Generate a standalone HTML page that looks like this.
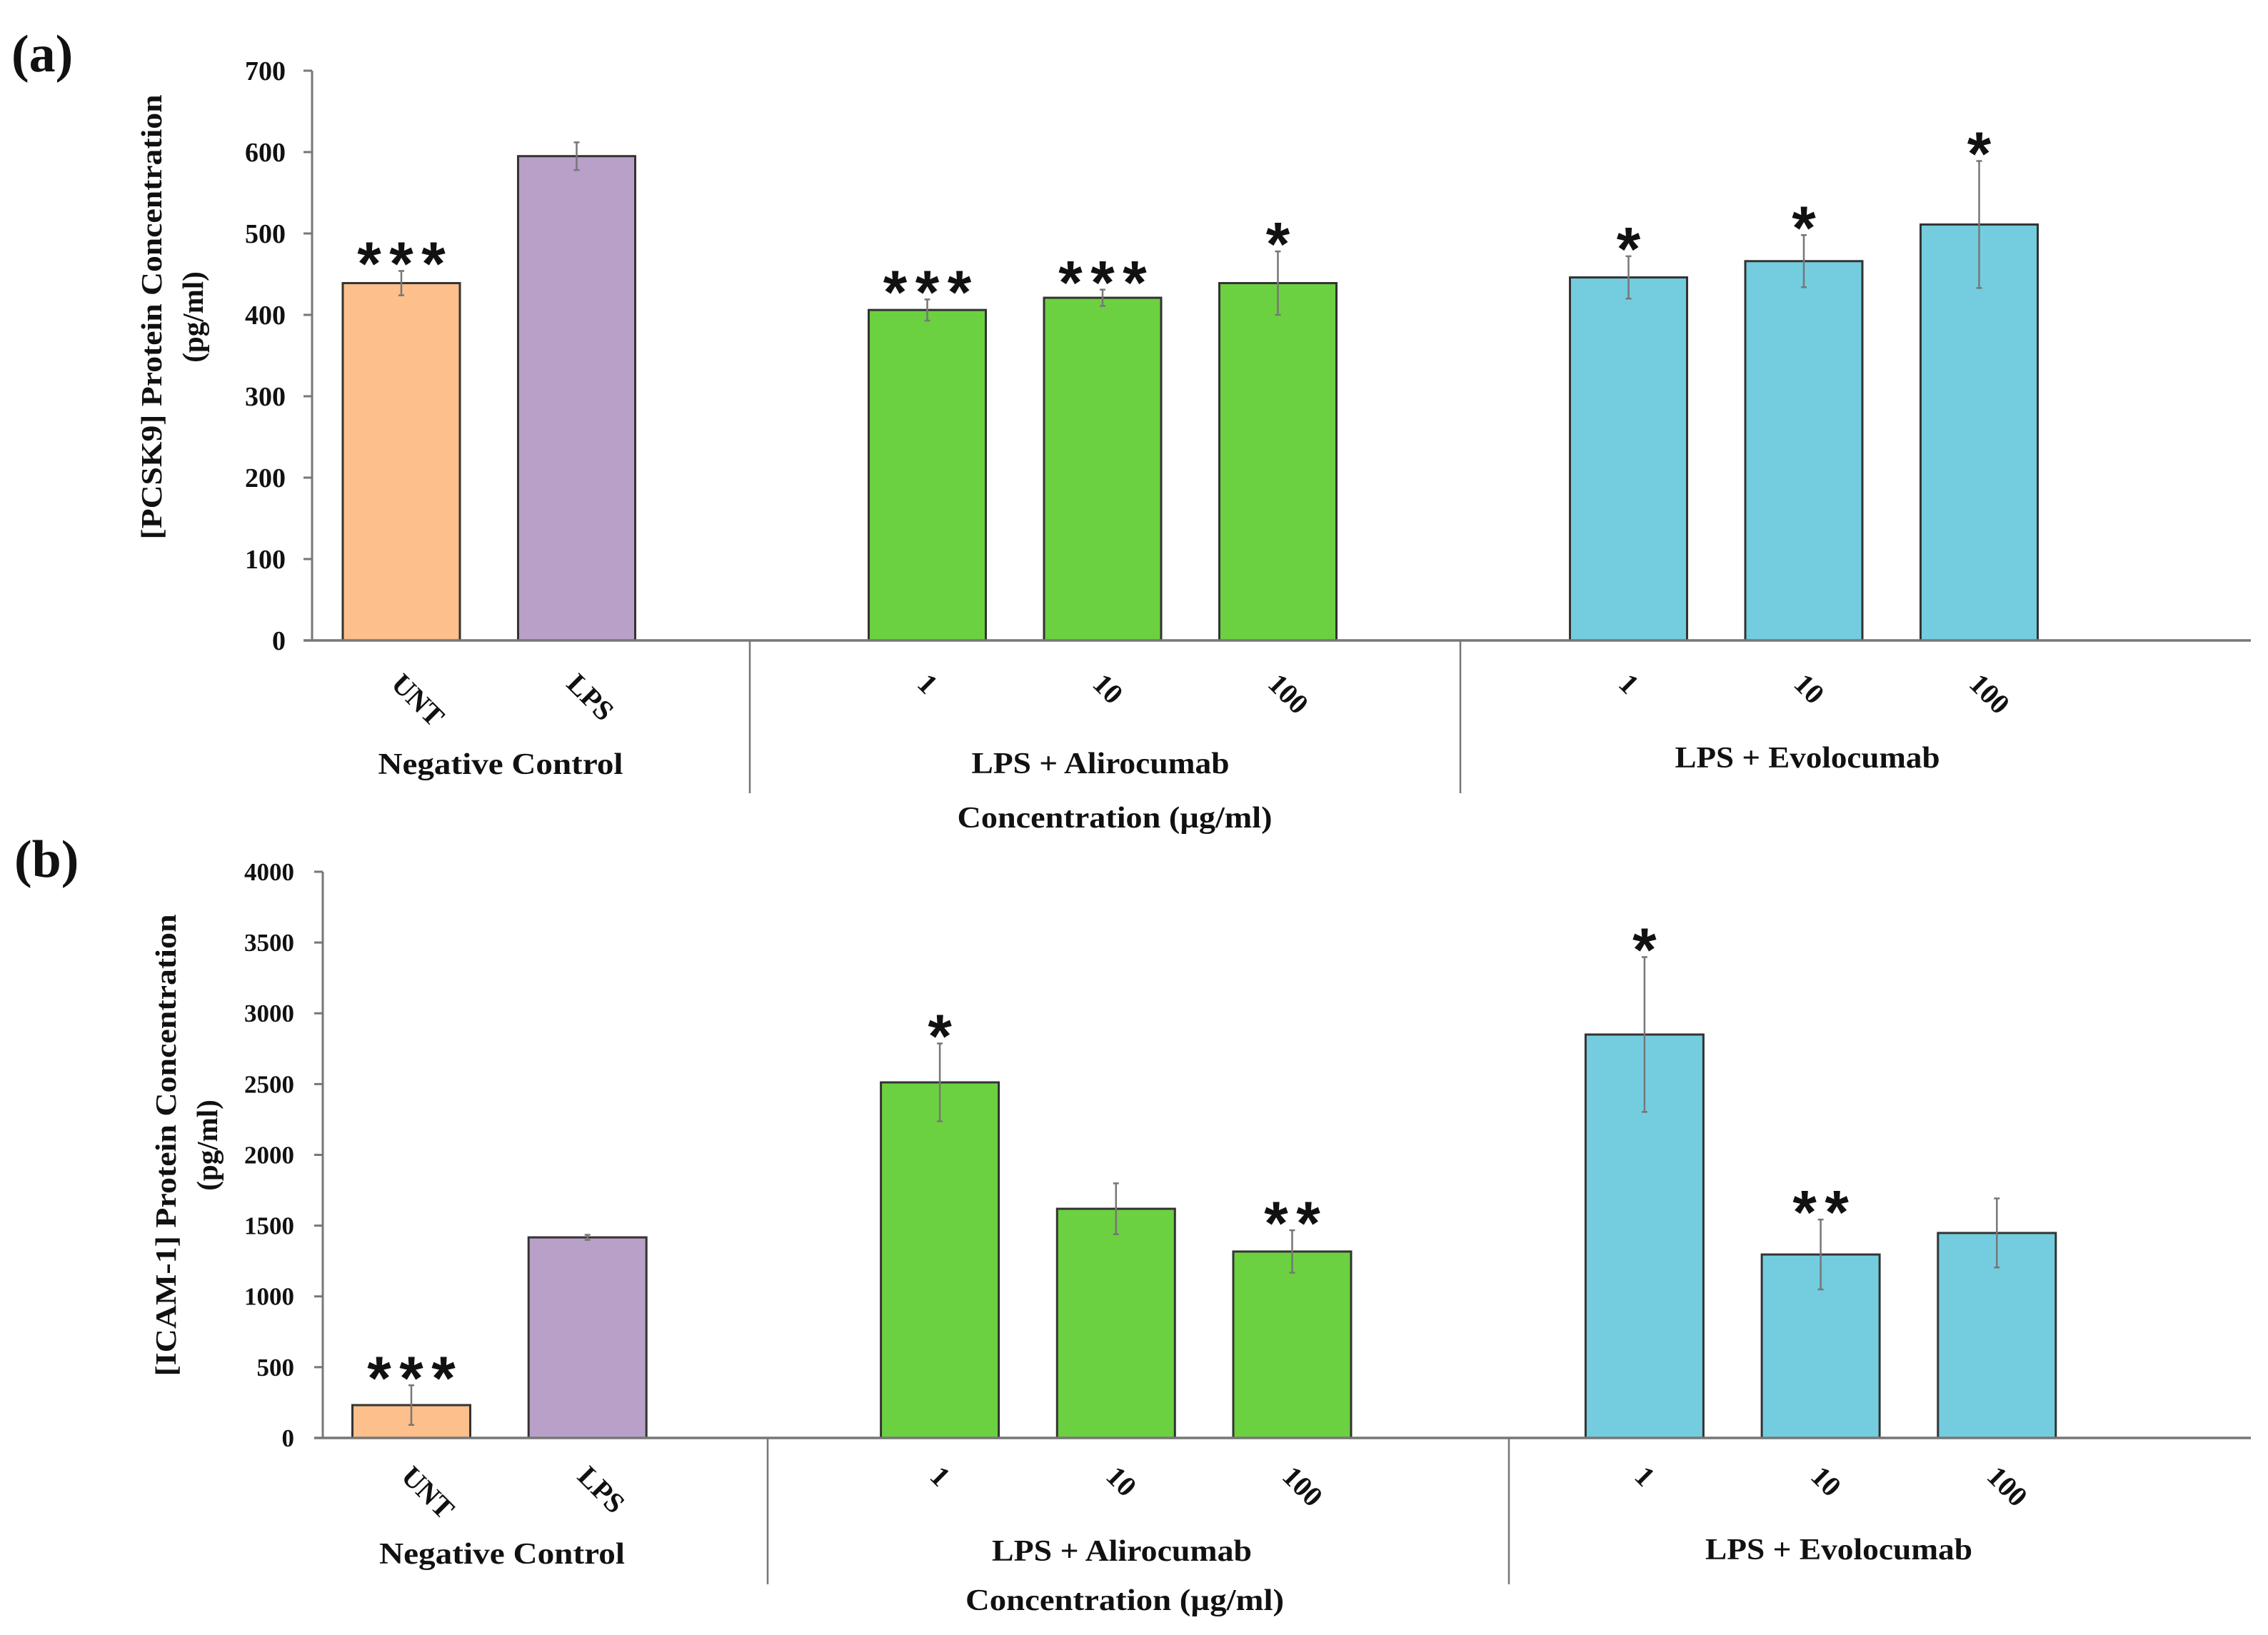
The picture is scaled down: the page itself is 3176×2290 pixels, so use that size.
<!DOCTYPE html>
<html><head><meta charset="utf-8"><style>
html,body{margin:0;padding:0;background:#fff;}
svg{display:block;}
text{font-family:"Liberation Serif",serif;font-weight:bold;fill:#111;}
.star{font-family:"Liberation Sans",sans-serif;}
</style></head>
<body>
<svg id="fig" width="3176" height="2290" viewBox="0 0 3176 2290" xmlns="http://www.w3.org/2000/svg">
<rect width="3176" height="2290" fill="#fff"/>
</svg>
<script>
// ---- shared data ----
const categories = ["UNT","LPS","1","10","100","1","10","100"];
const slotIndex = [0,1,3,4,5,7,8,9];
const colors = ["#FDBF8C","#B8A0C8","#6CD140","#6CD140","#6CD140","#73CDDF","#73CDDF","#73CDDF"];
// ---- panel (a) PCSK9 ----
const valuesA = [439, 595, 406, 421, 439, 446, 466, 511];
const errorsA = [15, 17, 13, 10, 39, 26, 32, 78];
const starsA = ["***","","***","***","*","*","*","*"];
const ticksA = [0,100,200,300,400,500,600,700];
// ---- panel (b) ICAM-1 ----
const valuesB = [232, 1417, 2512, 1619, 1317, 2850, 1296, 1448];
const errorsB = [140, 18, 275, 180, 150, 547, 247, 244];
const starsB = ["***","","*","","**","*","**",""];
const ticksB = [0,500,1000,1500,2000,2500,3000,3500,4000];
const groupLabels = ["Negative Control","LPS + Alirocumab","LPS + Evolocumab"];

const NS="http://www.w3.org/2000/svg";
const svg=document.getElementById('fig');
function mk(tag, attrs, parent, txt){
  const e=document.createElementNS(NS,tag);
  for(const k in attrs) e.setAttribute(k,attrs[k]);
  if(txt!==undefined) e.textContent=txt;
  (parent||svg).appendChild(e);
  return e;
}

function panel(cfg, values, errors, stars, ticks){
  const g=mk('g',{});
  
  
  const y=v=>cfg.y0-(v-ticks[0])/(ticks[ticks.length-1]-ticks[0])*(cfg.y0-cfg.yTop);
  const x=i=>cfg.x0+cfg.step*i;
  const pl=mk('text',{x:cfg.letterX,y:cfg.letterY,'font-size':74},g,cfg.letter);
  
  
  const ax=mk('line',{x1:cfg.axisX,y1:y(ticks[ticks.length-1]),x2:cfg.axisX,y2:cfg.y0,stroke:'#777','stroke-width':3},g);
  
  
  ticks.forEach(t=>{
    const tk=mk('line',{x1:cfg.axisX-12,y1:y(t),x2:cfg.axisX,y2:y(t),stroke:'#777','stroke-width':3},g);
    
    
    const tl=mk('text',{x:cfg.tickLabelX,y:y(t)+cfg.tickFont*0.34,'font-size':cfg.tickFont,'text-anchor':'end',fill:'#333'},g,String(t));
    
    
  });
  const t1=mk('text',{transform:`translate(${cfg.title1X},${cfg.titleCY}) rotate(-90)`,'text-anchor':'middle','font-size':41,textLength:cfg.title1Len,lengthAdjust:'spacingAndGlyphs'},g,cfg.title1);
  
  
  const t2=mk('text',{transform:`translate(${cfg.title2X},${cfg.titleCY}) rotate(-90)`,'text-anchor':'middle','font-size':41},g,'(pg/ml)');
  
  
  values.forEach((v,i)=>{
    const cx=x(slotIndex[i]);
    const b=mk('rect',{x:cx-cfg.barW/2,y:y(v),width:cfg.barW,height:cfg.y0-y(v),fill:colors[i],stroke:'#333','stroke-width':3},g);
    
    
    const e=errors[i];
    const eb=mk('path',{d:`M${cx},${y(v+e)}V${y(v-e)}M${cx-4},${y(v+e)}H${cx+4}M${cx-4},${y(v-e)}H${cx+4}`,stroke:'#777','stroke-width':2.5,fill:'none'},g);
    
    
    if(stars[i]){
      const n=stars[i].length, sp=45, cy=y(v+e)-32;
      for(let k=0;k<n;k++){
        const sx=cx+(k-(n-1)/2)*sp;
        const s=mk('text',{class:'star',x:sx,y:cy+0.60*86,'font-size':86,'text-anchor':'middle',fill:'#111'},g,'*');
        
        
      }
    }
    const cl=mk('text',{transform:`translate(${cx-16},${cfg.catY}) rotate(45)`,'font-size':40,fill:'#222'},g,categories[i]);
    
    
  });
  const bl=mk('line',{x1:cfg.axisX-12,y1:cfg.y0,x2:cfg.xEnd,y2:cfg.y0,stroke:'#777','stroke-width':3.5},g);
  
  
  cfg.seps.forEach(sx=>{
    const sl=mk('line',{x1:sx,y1:cfg.y0,x2:sx,y2:cfg.sepBottom,stroke:'#777','stroke-width':2.5},g);
    
    
  });
  groupLabels.forEach((lab,j)=>{
    const gl=mk('text',{x:cfg.groupX[j],y:cfg.groupY[j],'font-size':42,'text-anchor':'middle',textLength:cfg.groupW[j],lengthAdjust:'spacingAndGlyphs'},g,lab);
    
    
  });
  const xt=mk('text',{x:cfg.concX,y:cfg.concY,'font-size':42,'text-anchor':'middle',textLength:cfg.concW,lengthAdjust:'spacingAndGlyphs'},g,'Concentration (µg/ml)');
  
  
}

panel({name:'panel-a-pcsk9',letter:'(a)',letterX:16,letterY:100,axisX:437,y0:897,yTop:99,x0:562,step:245.5,barW:164,
  tickLabelX:400,tickFont:38,title1:'[PCSK9] Protein Concentration',title1X:226,title2X:284,titleCY:444,title1Len:623,
  catY:960,xEnd:3152,seps:[1050,2045],sepBottom:1111,
  groupX:[701,1541,2531],groupY:[1084,1083,1075],groupW:[343,361,371],concX:1561,concY:1159,concW:441},
  valuesA,errorsA,starsA,ticksA);

panel({name:'panel-b-icam1',letter:'(b)',letterX:20,letterY:1228,axisX:452,y0:2014,yTop:1221,x0:576,step:246.7,barW:165,
  tickLabelX:412,tickFont:35,title1:'[ICAM-1] Protein Concentration',title1X:246,title2X:304,titleCY:1604,title1Len:647,
  catY:2070,xEnd:3152,seps:[1075,2113],sepBottom:2219,
  groupX:[703,1571,2575],groupY:[2190,2186,2184],groupW:[344,364,374],concX:1575,concY:2255,concW:446},
  valuesB,errorsB,starsB,ticksB);
</script>
</body></html>
